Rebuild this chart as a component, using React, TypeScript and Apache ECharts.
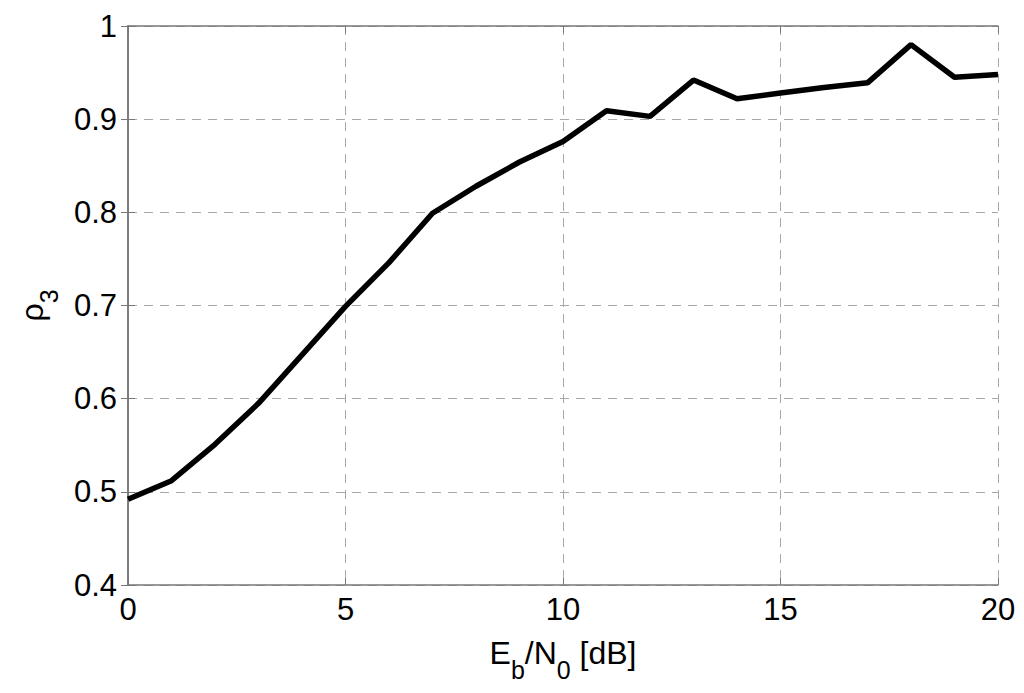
import React, { useEffect, useRef } from "react";
import * as echarts from "echarts";

const xValues = [0, 1, 2, 3, 4, 5, 6, 7, 8, 9, 10, 11, 12, 13, 14, 15, 16, 17, 18, 19, 20];
const rhoValues = [0.492, 0.512, 0.551, 0.595, 0.647, 0.699, 0.746, 0.799, 0.828, 0.854, 0.876, 0.909, 0.903, 0.942, 0.922, 0.928, 0.934, 0.939, 0.98, 0.945, 0.948];
const xTicks = [0, 5, 10, 15, 20];
const yTicks = [0.4, 0.5, 0.6, 0.7, 0.8, 0.9, 1];

const FONT = "'Liberation Sans', Arial, sans-serif";

export default function App() {
  const ref = useRef<HTMLDivElement>(null);
  useEffect(() => {
    if (!ref.current) return;
    const chart = echarts.init(ref.current, null, { renderer: "svg" });
    const gridLine = { show: true, lineStyle: { color: "#a8a8a8", type: [9, 7] as any, width: 1 } };
    const axisLine = { show: true, lineStyle: { color: "#777", width: 1.5 } };
    const tick = { show: true, inside: true, length: 7, lineStyle: { color: "#777" } };
    const rich = {
      n: { fontSize: 32, fontFamily: FONT, color: "#000", verticalAlign: "top", lineHeight: 36 },
      s: { fontSize: 25, fontFamily: FONT, color: "#000", verticalAlign: "top", lineHeight: 36, padding: [20, 0, 0, 0] },
    };
    chart.setOption({
      animation: false,
      backgroundColor: "#fff",
      grid: { left: 128, right: 26, top: 26, bottom: 108, containLabel: false },
      xAxis: [
        {
          type: "value",
          min: 0,
          max: 20,
          interval: 5,
          axisLine,
          axisTick: tick,
          splitLine: gridLine,
          axisLabel: { color: "#000", fontFamily: FONT, fontSize: 31, margin: 9, formatter: (v: number) => (xTicks.includes(v) ? String(v) : "") },
          name: "{n|E}{s|b}{n|/N}{s|0}{n| [dB]}",
          nameLocation: "middle",
          nameGap: 52,
          nameTextStyle: { color: "#000", fontFamily: FONT, verticalAlign: "top", rich },
        },
        {
          type: "value",
          position: "top",
          min: 0,
          max: 20,
          interval: 5,
          axisLine,
          axisTick: tick,
          axisLabel: { show: false },
          splitLine: { show: false },
        },
      ],
      yAxis: [
        {
          type: "value",
          min: 0.4,
          max: 1,
          interval: 0.1,
          axisLine,
          axisTick: tick,
          splitLine: gridLine,
          axisLabel: {
            color: "#000",
            fontFamily: FONT,
            fontSize: 31,
            margin: 11,
            formatter: (v: number) => {
              const r = Math.round(v * 10) / 10;
              return yTicks.includes(r) ? String(r) : "";
            },
          },
          name: "{n|ρ}{s|3}",
          nameLocation: "middle",
          nameGap: 76,
          nameRotate: 90,
          nameTextStyle: { color: "#000", fontFamily: FONT, rich },
        },
        {
          type: "value",
          position: "right",
          min: 0.4,
          max: 1,
          interval: 0.1,
          axisLine,
          axisTick: tick,
          axisLabel: { show: false },
          splitLine: { show: false },
        },
      ],
      series: [
        {
          type: "line",
          data: xValues.map((x, i) => [x, rhoValues[i]]),
          showSymbol: false,
          lineStyle: { color: "#000", width: 5.5 },
          itemStyle: { color: "#000" },
          z: 5,
        },
      ],
    });
    return () => chart.dispose();
  }, []);
  return <div ref={ref} style={{ width: 1024, height: 693, position: "absolute", left: 0, top: 0 }} />;
}
